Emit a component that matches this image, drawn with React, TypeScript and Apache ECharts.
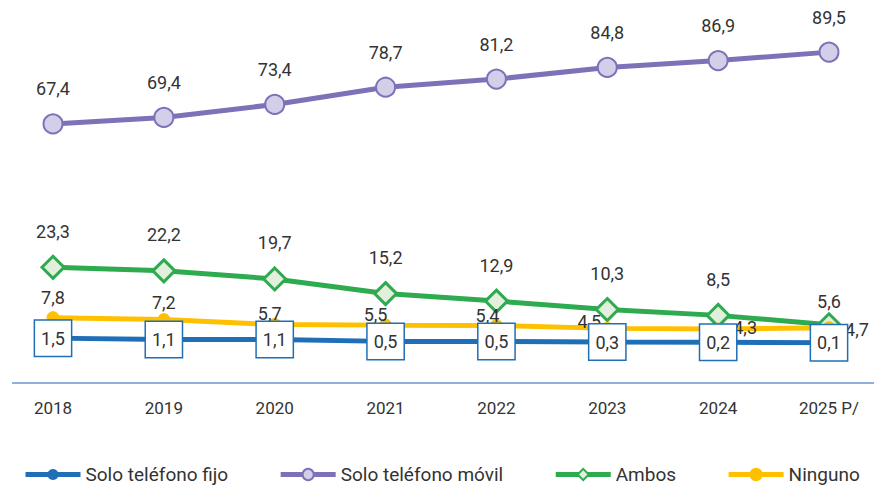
import React, { useEffect, useRef } from "react";
import * as echarts from "echarts";

const categories = ["2018", "2019", "2020", "2021", "2022", "2023", "2024", "2025 P/"];
const soloFijo = [1.5, 1.1, 1.1, 0.5, 0.5, 0.3, 0.2, 0.1];
const soloMovil = [67.4, 69.4, 73.4, 78.7, 81.2, 84.8, 86.9, 89.5];
const ambos = [23.3, 22.2, 19.7, 15.2, 12.9, 10.3, 8.5, 5.6];
const ninguno = [7.8, 7.2, 5.7, 5.5, 5.4, 4.5, 4.3, 4.7];
const seriesNames = ["Solo teléfono fijo", "Solo teléfono móvil", "Ambos", "Ninguno"];

// label offsets for Ninguno (relative to point centre)
const ningunoOffsets: [number, number][] = [
  [0, -20], [0, -17], [-5, -11], [-10, -11], [-9, -10], [-18, -7], [27, -2], [28, 2],
];

const fmt = (v: number) => v.toFixed(1).replace(".", ",");
const FONT = "Roboto";
const TXT = "#333333";

export default function App() {
  const ref = useRef<HTMLDivElement>(null);
  useEffect(() => {
    if (!ref.current) return;
    const chart = echarts.init(ref.current, undefined, { renderer: "svg" });
    const labelBase = {
      show: true,
      position: "inside" as const,
      color: TXT,
      fontSize: 18,
      fontFamily: FONT,
      formatter: (p: any) => fmt(p.value),
    };
    chart.setOption({
      animation: false,
      textStyle: { fontFamily: FONT },
      grid: { left: 53, right: 45, top: 18, bottom: 145 },
      xAxis: {
        type: "category",
        data: categories,
        boundaryGap: false,
        axisLine: { show: false },
        axisTick: { show: false },
        axisLabel: { color: TXT, fontSize: 17, fontFamily: FONT, margin: 56 },
      },
      yAxis: { type: "value", min: 0, max: 100, show: false, splitLine: { show: false } },
      legend: {
        data: seriesNames,
        left: 18,
        right: 0,
        top: 460,
        itemWidth: 55,
        itemHeight: 14,
        itemGap: 50,
        lineStyle: { width: 5 },
        textStyle: { color: TXT, fontSize: 19, fontFamily: FONT },
      },
      graphic: [
        {
          type: "line",
          shape: { x1: 12, y1: 383, x2: 874, y2: 383 },
          style: { stroke: "#8fb0dc", lineWidth: 2 },
        },
      ],
      series: [
        {
          name: "Solo teléfono móvil",
          type: "line",
          data: soloMovil,
          symbol: "circle",
          symbolSize: 19,
          lineStyle: { color: "#7b72b8", width: 5 },
          itemStyle: { color: "#d3cfe8", borderColor: "#7b72b8", borderWidth: 2 },
          label: { ...labelBase, offset: [0, -35] },
          z: 2,
        },
        {
          name: "Ambos",
          type: "line",
          data: ambos.map((v, i) => ({
            value: v,
            label: { offset: i === ambos.length - 1 ? [0, -23] : [0, -36] },
          })),
          symbol: "diamond",
          symbolSize: 22,
          lineStyle: { color: "#2eaa4f", width: 5 },
          itemStyle: { color: "#e2efdc", borderColor: "#2eaa4f", borderWidth: 3 },
          label: { ...labelBase },
          z: 3,
        },
        {
          name: "Ninguno",
          type: "line",
          data: ninguno.map((v, i) => ({ value: v, label: { offset: ningunoOffsets[i] } })),
          symbol: "circle",
          symbolSize: 12,
          lineStyle: { color: "#ffc000", width: 5 },
          itemStyle: { color: "#ffc000", borderColor: "#ffc000", borderWidth: 1 },
          label: { ...labelBase },
          z: 4,
        },
        {
          name: "Solo teléfono fijo",
          type: "line",
          data: soloFijo,
          symbol: "circle",
          symbolSize: 12,
          lineStyle: { color: "#1f6fb8", width: 5 },
          itemStyle: { color: "#1f6fb8", borderColor: "#1f6fb8" },
          label: {
            ...labelBase,
            backgroundColor: "#ffffff",
            borderColor: "#1f6fb8",
            borderWidth: 1.5,
            padding: [9, 6, 8, 6],
          },
          z: 5,
        },
      ],
    });
    return () => chart.dispose();
  }, []);
  return (
    <div
      ref={ref}
      style={{ position: "fixed", left: 0, top: 0, width: 874, height: 488, background: "#ffffff" }}
    />
  );
}
